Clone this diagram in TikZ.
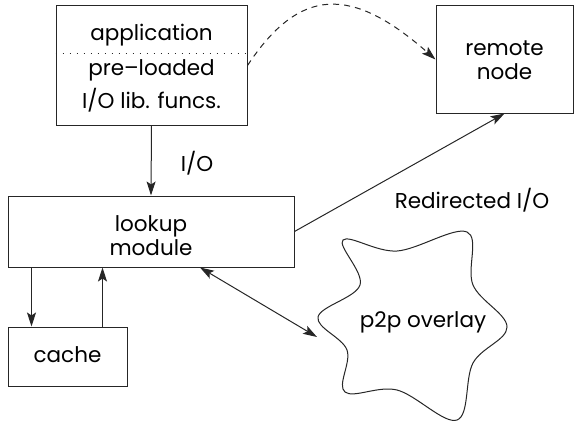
\documentclass[tikz,border=0pt]{standalone}
\usepackage{fontspec}
\setmainfont{Poppins}
\usetikzlibrary{arrows.meta,calc}
\begin{document}
\begin{tikzpicture}[x=1pt,y=-1pt,
  box/.style={draw=black!85,line width=1pt,inner sep=0pt},
  lbl/.style={font=\fontsize{21.5}{24}\selectfont,align=center,inner sep=0pt},
  line/.style={draw=black!85,line width=1pt},
  arr/.style={line,-{Stealth[length=14pt,width=9pt,inset=3pt]}},
  barr/.style={line,{Stealth[length=14pt,width=9pt,inset=3pt]}-{Stealth[length=14pt,width=9pt,inset=3pt]}}]
\useasboundingbox (0,0) rectangle (575,420);
% boxes
\node[box,minimum width=191pt,minimum height=119pt] (app) at (151.5,65.5) {};
\node[box,minimum width=137pt,minimum height=107pt] (remote) at (504.5,59.5) {};
\node[box,minimum width=286pt,minimum height=71pt] (lookup) at (151,231.5) {};
\node[box,minimum width=119pt,minimum height=59pt] (cache) at (67.5,356.5) {};
% texts
\node[lbl] (t1) at (151.5,35) {application};
\node[lbl] (t2) at (151.5,70) {pre–loaded};
\node[lbl] (t3) at (151.5,100) {I/O lib. funcs.};
\node[lbl] (t4) at (504.5,60) {remote\\node};
\node[lbl] (t5) at (151,236) {lookup\\module};
\node[lbl] (t6) at (67.5,355) {cache};
\node[lbl] (t7) at (197,163) {I/O};
\node[lbl] (t8) at (472,200) {Redirected I/O};
\node[lbl] (t9) at (423,322) {p2p overlay};
% dotted separator
\draw[line,line width=0.8pt,dash pattern=on 1pt off 6pt]
  ($(app.north west)!0.395!(app.south west)$) -- ($(app.north east)!0.395!(app.south east)$);
% cloud
\draw[line] plot[smooth cycle,tension=0.6] coordinates {
  (343,240) (397,251) (467,232) (473,285) (507,327) (473,363)
  (457,420) (397,390) (345,392) (347,350) (318,317) (360,285)};
\coordinate (ovl) at (317,337);
% connectors
\draw[arr,dash pattern=on 6pt off 5pt] (app.east) .. controls (300,-14) and (352,-14) .. (remote.west);
\draw[arr] (app.south) -- (lookup.north);
\draw[arr] (lookup.east) -- (remote.south);
\draw[arr] ($(lookup.south west)+(24,0)$) -- ($(cache.north west)+(24,0)$);
\draw[arr] ($(cache.north west)+(95,0)$) -- ($(lookup.south west)+(95,0)$);
\draw[barr] ($(lookup.south)+(49,0)$) -- (ovl);
\end{tikzpicture}
\end{document}
